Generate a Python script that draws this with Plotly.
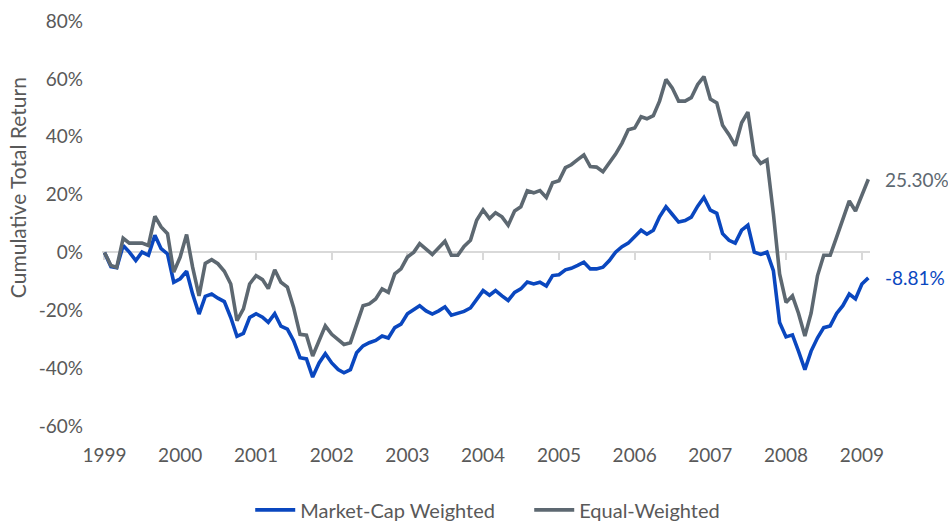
import pandas as pd
import plotly.graph_objects as go

# Monthly observations, Jan 1999 - Feb 2009
months = pd.date_range("1999-01-01", periods=122, freq="MS")

# Cumulative total return (%) of each weighting scheme
market_cap = [
    0, -4.9, -5.3, 2.4, 0.1, -2.8, 0.1, -1, 5.9, 1.3,
    -0.5, -10.3, -9.1, -6.5, -14.4, -21.3, -15.2, -14.4, -15.8, -17,
    -22.5, -29, -28, -22.5, -21.2, -22.4, -24.2, -21.2, -25.5, -26.5,
    -30.5, -36.4, -36.8, -43.1, -38.2, -35, -38.2, -40.5, -41.6, -40.5,
    -34.7, -32.3, -31.2, -30.4, -28.9, -29.6, -26, -24.8, -21.2, -19.9,
    -18.4, -20.2, -21.3, -20.2, -18.8, -21.7, -21.1, -20.4, -19.2, -16.1,
    -13.2, -14.8, -13.2, -15, -16.6, -13.8, -12.6, -10.2, -10.9, -10.3,
    -11.6, -8, -7.7, -6, -5.5, -4.5, -3.4, -5.7, -5.7, -5.1,
    -2.8, 0.1, 2, 3.2, 5.3, 7.7, 6.3, 7.7, 12.3, 15.8,
    13.2, 10.5, 11, 12.2, 16, 19, 14.6, 13.5, 6.5, 4.2,
    3.2, 7.7, 9.4, 0.1, -0.7, 0.1, -6.3, -24.2, -29.2, -28.5,
    -34.1, -40.5, -34.1, -29.5, -26, -25.4, -21.1, -18.4, -14.4, -16.1,
    -10.9, -8.81,
]
equal_weighted = [
    0, -4.5, -5.2, 4.9, 3.2, 3.2, 3.2, 2.4, 12.5, 8.8,
    6.5, -6.8, -1.6, 6.2, -5.1, -15, -3.8, -2.5, -3.9, -6.5,
    -10.9, -23.6, -19.5, -10.9, -8, -9.4, -12.5, -6, -10.3, -12,
    -19, -28.3, -28.6, -35.8, -30.6, -25.4, -28.3, -30, -31.8, -31.2,
    -24.8, -18.4, -17.8, -16.1, -12.6, -13.8, -7.4, -5.7, -1.6, 0.1,
    3, 1.3, -0.7, 1.6, 3.9, -1, -1, 2.1, 4.2, 11.1,
    14.7, 11.7, 13.7, 12.3, 9.4, 14.3, 15.8, 21.3, 20.6, 21.4,
    19, 24.1, 24.8, 29.3, 30.3, 32.1, 33.7, 29.7, 29.5, 27.9,
    31, 34, 37.8, 42.4, 43, 46.9, 46.2, 47.3, 52.3, 59.8,
    56.9, 52.3, 52.3, 53.5, 58.1, 60.8, 53, 51.7, 44, 40.7,
    36.9, 44.8, 48.5, 33.7, 30.8, 32, 13.4, -7.4, -17.3, -15,
    -21, -28.9, -21, -8, -1, -1, 5.3, 11.1, 17.8, 14.3,
    19.8, 25.30,
]

series_names = ["Market-Cap Weighted", "Equal-Weighted"]
series_colors = ["#0a47bf", "#5d6871"]

year_ticks = list(range(1999, 2010))
y_ticks = list(range(-60, 81, 20))
y_tick_text = [f"{v}%" for v in y_ticks]

FONT = "Lato"
TEXT_GREY = "#595959"
AXIS_GREY = "#d9d9d9"

tick_dates = [f"{y}-01-01" for y in year_ticks]
x_range = ["1998-12-20", "2009-02-09"]
zero_pos = (0 - y_ticks[0]) / (y_ticks[-1] - y_ticks[0])

fig = go.Figure()

# invisible carrier so the zero-line axis gets drawn
fig.add_trace(go.Scatter(x=[months[0]], y=[None], xaxis="x2", yaxis="y",
                         mode="lines", showlegend=False, hoverinfo="skip"))

for name, vals, color in zip(series_names, [market_cap, equal_weighted], series_colors):
    fig.add_trace(go.Scatter(
        x=months, y=vals, name=name, mode="lines",
        line=dict(color=color, width=3.6),
    ))

# end-of-period value labels
for vals, color in zip([market_cap, equal_weighted], series_colors):
    fig.add_annotation(
        x=months[-1], y=vals[-1], text=f"{vals[-1]:.2f}%",
        xanchor="left", yanchor="middle", xshift=15, showarrow=False,
        font=dict(family=FONT, size=19, color=color),
    )

# y-axis title
fig.add_annotation(
    x=-0.109, y=0.588, xref="paper", yref="paper",
    text="Cumulative Total Return", textangle=-90, showarrow=False,
    xanchor="center", yanchor="middle",
    font=dict(family=FONT, size=21, color=TEXT_GREY),
)

fig.update_layout(
    width=948, height=523,
    margin=dict(l=102, r=78, t=21, b=97, autoexpand=False),
    paper_bgcolor="white", plot_bgcolor="white",
    font=dict(family=FONT, size=19, color=TEXT_GREY),
    showlegend=True,
    legend=dict(
        orientation="h", x=0.193, xanchor="left", y=-0.207, yanchor="middle",
        itemwidth=40, entrywidth=224, entrywidthmode="pixels",
        font=dict(family=FONT, size=20, color=TEXT_GREY),
        bgcolor="rgba(0,0,0,0)",
    ),
    xaxis=dict(
        type="date", range=x_range,
        tickvals=tick_dates, ticktext=[str(y) for y in year_ticks],
        showgrid=False, zeroline=False, showline=False, ticks="",
        ticklabelstandoff=16,
        tickfont=dict(family=FONT, size=19, color=TEXT_GREY),
    ),
    xaxis2=dict(
        type="date", range=x_range, overlaying="x", anchor="free",
        position=zero_pos, side="bottom",
        tickvals=tick_dates, showticklabels=False,
        showgrid=False, zeroline=False,
        showline=True, linecolor=AXIS_GREY, linewidth=1.5,
        ticks="outside", ticklen=7, tickwidth=1.5, tickcolor=AXIS_GREY,
        layer="below traces",
    ),
    yaxis=dict(
        range=[y_ticks[0], y_ticks[-1]], tickvals=y_ticks, ticktext=y_tick_text,
        showgrid=False, zeroline=False, showline=False, ticks="",
        ticklabelstandoff=18,
        tickfont=dict(family=FONT, size=19, color=TEXT_GREY),
    ),
)

fig.write_html("out.html")
